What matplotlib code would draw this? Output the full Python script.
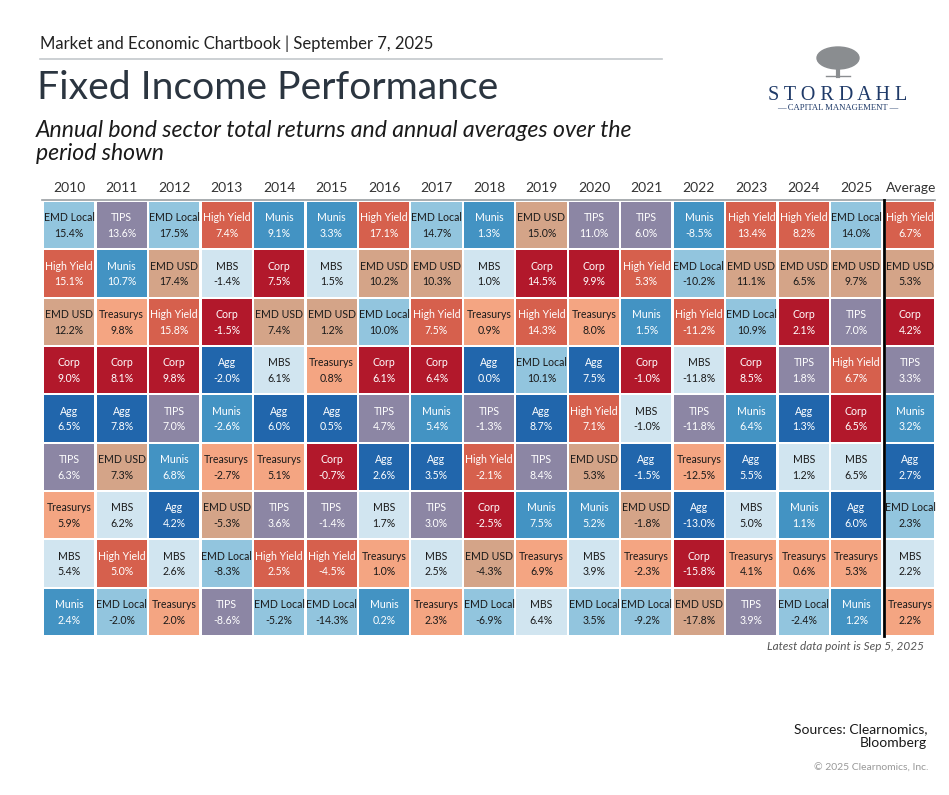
import matplotlib.pyplot as plt
from matplotlib.patches import Rectangle, Ellipse

plt.rcParams['font.family'] = ['Lato', 'DejaVu Sans']

# data (ranked top to bottom within each column)
years = ['2010', '2011', '2012', '2013', '2014', '2015', '2016', '2017',
         '2018', '2019', '2020', '2021', '2022', '2023', '2024', '2025', 'Average']

sectors = [
    ['EMD Local', 'High Yield', 'EMD USD', 'Corp', 'Agg', 'TIPS', 'Treasurys', 'MBS', 'Munis'],
    ['TIPS', 'Munis', 'Treasurys', 'Corp', 'Agg', 'EMD USD', 'MBS', 'High Yield', 'EMD Local'],
    ['EMD Local', 'EMD USD', 'High Yield', 'Corp', 'TIPS', 'Munis', 'Agg', 'MBS', 'Treasurys'],
    ['High Yield', 'MBS', 'Corp', 'Agg', 'Munis', 'Treasurys', 'EMD USD', 'EMD Local', 'TIPS'],
    ['Munis', 'Corp', 'EMD USD', 'MBS', 'Agg', 'Treasurys', 'TIPS', 'High Yield', 'EMD Local'],
    ['Munis', 'MBS', 'EMD USD', 'Treasurys', 'Agg', 'Corp', 'TIPS', 'High Yield', 'EMD Local'],
    ['High Yield', 'EMD USD', 'EMD Local', 'Corp', 'TIPS', 'Agg', 'MBS', 'Treasurys', 'Munis'],
    ['EMD Local', 'EMD USD', 'High Yield', 'Corp', 'Munis', 'Agg', 'TIPS', 'MBS', 'Treasurys'],
    ['Munis', 'MBS', 'Treasurys', 'Agg', 'TIPS', 'High Yield', 'Corp', 'EMD USD', 'EMD Local'],
    ['EMD USD', 'Corp', 'High Yield', 'EMD Local', 'Agg', 'TIPS', 'Munis', 'Treasurys', 'MBS'],
    ['TIPS', 'Corp', 'Treasurys', 'Agg', 'High Yield', 'EMD USD', 'Munis', 'MBS', 'EMD Local'],
    ['TIPS', 'High Yield', 'Munis', 'Corp', 'MBS', 'Agg', 'EMD USD', 'Treasurys', 'EMD Local'],
    ['Munis', 'EMD Local', 'High Yield', 'MBS', 'TIPS', 'Treasurys', 'Agg', 'Corp', 'EMD USD'],
    ['High Yield', 'EMD USD', 'EMD Local', 'Corp', 'Munis', 'Agg', 'MBS', 'Treasurys', 'TIPS'],
    ['High Yield', 'EMD USD', 'Corp', 'TIPS', 'Agg', 'MBS', 'Munis', 'Treasurys', 'EMD Local'],
    ['EMD Local', 'EMD USD', 'TIPS', 'High Yield', 'Corp', 'MBS', 'Agg', 'Treasurys', 'Munis'],
    ['High Yield', 'EMD USD', 'Corp', 'TIPS', 'Munis', 'Agg', 'EMD Local', 'MBS', 'Treasurys'],
]

returns = [
    [15.4, 15.1, 12.2, 9.0, 6.5, 6.3, 5.9, 5.4, 2.4],
    [13.6, 10.7, 9.8, 8.1, 7.8, 7.3, 6.2, 5.0, -2.0],
    [17.5, 17.4, 15.8, 9.8, 7.0, 6.8, 4.2, 2.6, 2.0],
    [7.4, -1.4, -1.5, -2.0, -2.6, -2.7, -5.3, -8.3, -8.6],
    [9.1, 7.5, 7.4, 6.1, 6.0, 5.1, 3.6, 2.5, -5.2],
    [3.3, 1.5, 1.2, 0.8, 0.5, -0.7, -1.4, -4.5, -14.3],
    [17.1, 10.2, 10.0, 6.1, 4.7, 2.6, 1.7, 1.0, 0.2],
    [14.7, 10.3, 7.5, 6.4, 5.4, 3.5, 3.0, 2.5, 2.3],
    [1.3, 1.0, 0.9, 0.0, -1.3, -2.1, -2.5, -4.3, -6.9],
    [15.0, 14.5, 14.3, 10.1, 8.7, 8.4, 7.5, 6.9, 6.4],
    [11.0, 9.9, 8.0, 7.5, 7.1, 5.3, 5.2, 3.9, 3.5],
    [6.0, 5.3, 1.5, -1.0, -1.0, -1.5, -1.8, -2.3, -9.2],
    [-8.5, -10.2, -11.2, -11.8, -11.8, -12.5, -13.0, -15.8, -17.8],
    [13.4, 11.1, 10.9, 8.5, 6.4, 5.5, 5.0, 4.1, 3.9],
    [8.2, 6.5, 2.1, 1.8, 1.3, 1.2, 1.1, 0.6, -2.4],
    [14.0, 9.7, 7.0, 6.7, 6.5, 6.5, 6.0, 5.3, 1.2],
    [6.7, 5.3, 4.2, 3.3, 3.2, 2.7, 2.3, 2.2, 2.2],
]

colors = {
    'EMD Local': '#92C5DE',
    'TIPS': '#8C86A4',
    'High Yield': '#D6604D',
    'Munis': '#4393C3',
    'MBS': '#D1E5F0',
    'Corp': '#B2182B',
    'EMD USD': '#D4A488',
    'Treasurys': '#F4A582',
    'Agg': '#2166AC',
}
dark_text = {'EMD Local', 'MBS', 'EMD USD', 'Treasurys'}

W, H = 949, 795
fig = plt.figure(figsize=(W / 100, H / 100), dpi=100)


def fx(px):
    return px / W


def fy(py):
    return 1 - py / H


# header texts
fig.text(fx(40), fy(44), 'Market and Economic Chartbook | September 7, 2025',
         fontsize=12, color='#222222', va='center')
fig.add_artist(plt.Line2D([fx(40), fx(662)], [fy(59), fy(59)], color='#c4c8cc', lw=1.2))
fig.text(fx(37), fy(88), 'Fixed Income Performance', fontsize=28.2, color='#2b3540',
         va='center')
fig.text(fx(36), fy(142), 'Annual bond sector total returns and annual averages over the\nperiod shown',
         fontsize=16.6, color='#1a1a1a', va='center', style='italic', linespacing=1.1)

# logo
fig.add_artist(Ellipse((fx(838), fy(58)), fx(42), 22 / H, color='#8a8d90'))
fig.add_artist(plt.Line2D([fx(838), fx(838)], [fy(66), fy(76)], color='#8a8d90', lw=3))
fig.add_artist(plt.Line2D([fx(826), fx(850)], [fy(76), fy(76)], color='#8a8d90', lw=1))
fig.text(fx(838), fy(95), 'S T O R D A H L', fontsize=14.5, color='#1f3a68',
         ha='center', va='center', family='Liberation Serif')
fig.text(fx(838), fy(108), '— CAPITAL MANAGEMENT —', fontsize=6.2, color='#1f3a68',
         ha='center', va='center', family='Liberation Serif')

# quilt grid
ax = fig.add_axes([fx(43), fy(636), fx(935) - fx(43), fy(201) - fy(636)])
ax.set_xlim(0, len(years))
ax.set_ylim(9, 0)
ax.axis('off')

gap = 0.045
for c, year in enumerate(years):
    shift = 0.05 if year == 'Average' else 0
    ax.text(c + 0.5 + shift, -0.27, year, ha='center', va='center',
            fontsize=10, color='#333333', clip_on=False)
    for r in range(9):
        name = sectors[c][r]
        val = returns[c][r]
        ax.add_patch(Rectangle((c + gap / 2 + shift, r + gap / 2), 1 - gap - shift,
                               1 - gap, facecolor=colors[name], edgecolor='none'))
        tc = '#1a1a1a' if name in dark_text else 'white'
        xm = c + 0.5 + shift / 2
        ax.text(xm, r + 0.35, name, ha='center', va='center', fontsize=7.6, color=tc)
        ax.text(xm, r + 0.67, f'{val:.1f}%', ha='center', va='center', fontsize=7.6, color=tc)

ax.plot([-0.02, len(years)], [-0.03, -0.03], color='#9a9ea2', lw=1.2, clip_on=False)
ax.plot([16.02, 16.02], [-0.03, 9], color='black', lw=2, clip_on=False)

# footer
fig.text(fx(924), fy(646), 'Latest data point is Sep 5, 2025', fontsize=8.5,
         color='#555555', ha='right', va='center', style='italic')
fig.text(fx(927), fy(736), 'Sources: Clearnomics,\nBloomberg', fontsize=10,
         color='#1a1a1a', ha='right', va='center', linespacing=1.25)
fig.text(fx(929), fy(768), '© 2025 Clearnomics, Inc.', fontsize=7.5,
         color='#999999', ha='right', va='center')

fig.savefig('out.png', dpi=100, facecolor='white')
